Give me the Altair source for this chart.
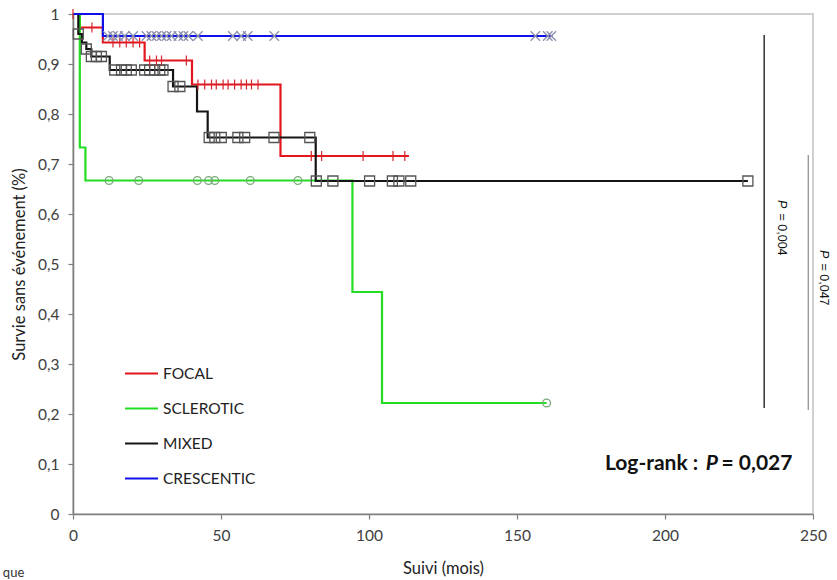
import altair as alt
import pandas as pd

groups = ["FOCAL", "SCLEROTIC", "MIXED", "CRESCENTIC"]
line_colors = ["#e3161e", "#22dd22", "#151515", "#1010e8"]

# step curves (time in months, survival)
focal_t = [0, 2.3, 10.1, 24.2, 40.2, 70.1, 113.5]
focal_s = [1, 0.973, 0.943, 0.907, 0.859, 0.716, 0.716]
focal_cens = [0, 6.4, 13.5, 15.8, 18.0, 20.3, 22.5, 25.9, 28.2, 29.9, 38.3,
              42.2, 44.5, 46.8, 48.4, 50.7, 52.4, 54.6, 56.8, 58.6, 60.3, 62.5,
              80.5, 84.0, 98.0, 108.1, 112.1]

scl_t = [0, 2.3, 4.2, 94.4, 104.4, 160.0]
scl_s = [1, 0.733, 0.667, 0.444, 0.222, 0.222]
scl_cens = [12.2, 22.2, 42.0, 45.8, 47.9, 59.9, 76.0, 160.0]

mix_t = [0, 1.8, 3.0, 4.5, 6.2, 12.4, 33.8, 41.9, 45.5, 82.0, 228.0]
mix_s = [1, 0.96, 0.943, 0.93, 0.915, 0.888, 0.855, 0.805, 0.753, 0.666, 0.666]
mix_cens = [1.8, 4.5, 6.2, 7.9, 9.6, 14.1, 16.4, 18.0, 19.7, 24.2, 25.9, 27.6,
            29.3, 30.4, 33.8, 36.1, 46.0, 47.9, 50.1, 55.7, 58.0, 67.9, 80.0,
            82.2, 87.8, 100.2, 107.9, 110.1, 114.1, 228.0]

cre_t = [0, 10.1, 162.0]
cre_s = [1, 0.956, 0.956]
cre_cens = [11.8, 13.5, 15.2, 17.5, 20.3, 24.8, 26.5, 28.2, 29.9, 31.6, 33.3,
            35.6, 37.3, 39.0, 42.2, 54.0, 56.8, 59.0, 68.0, 156.2, 160.4, 161.6]

x_ticks = [0, 50, 100, 150, 200, 250]
y_ticks = [0, 0.1, 0.2, 0.3, 0.4, 0.5, 0.6, 0.7, 0.8, 0.9, 1.0]

# annotations
test_rule_t = [233.5, 248.4]
test_rule_top = [0.958, 0.718]
test_rule_bottom = [0.212, 0.208]
test_p_t = [239.4, 253.7]
test_p_start = [0.628, 0.528]
test_rest_start = [0.601, 0.501]
test_rest_text = ["= 0,004", "= 0,047"]

curves = {
    "FOCAL": (focal_t, focal_s, focal_cens),
    "SCLEROTIC": (scl_t, scl_s, scl_cens),
    "MIXED": (mix_t, mix_s, mix_cens),
    "CRESCENTIC": (cre_t, cre_s, cre_cens),
}


def surv_at(ts, ss, c):
    v = ss[0]
    for t, s in zip(ts, ss):
        if t <= c:
            v = s
    return v


rows = []
for g, (ts, ss, _) in curves.items():
    for t, s in zip(ts, ss):
        rows.append({"group": g, "t": t, "s": s})
lines_df = pd.DataFrame(rows)

xscale = alt.Scale(domain=[0, 250], nice=False, zero=False)
yscale = alt.Scale(domain=[0, 1], nice=False, zero=False)

x_axis = alt.Axis(values=x_ticks, title="Suivi (mois)", grid=False, tickSize=5,
                  labelPadding=9, titlePadding=17, labelFlush=False)
y_axis = alt.Axis(values=y_ticks, title="Survie sans événement (%)", grid=False,
                  tickSize=5, labelPadding=9, titlePadding=10, labelFlush=False,
                  labelExpr="replace(format(datum.value, '.1~f'), '.', ',')")

lines = alt.Chart(lines_df).mark_line(interpolate="step-after", strokeWidth=2.2).encode(
    x=alt.X("t:Q", scale=xscale, axis=x_axis),
    y=alt.Y("s:Q", scale=yscale, axis=y_axis),
    color=alt.Color("group:N", scale=alt.Scale(domain=groups, range=line_colors),
                    sort=groups,
                    legend=alt.Legend(orient="none", legendX=51, legendY=342, title=None,
                                      symbolType="stroke", symbolSize=1089,
                                      symbolStrokeWidth=1.8, labelFont="Lato",
                                      labelFontSize=15.5, labelColor="#222222",
                                      labelOffset=4, rowPadding=9)),
    detail="group:N",
)

marker_styles = {
    "FOCAL": dict(shape="M0,-1L0,1", size=100, color="#d4262b", strokeWidth=1.2),
    "SCLEROTIC": dict(shape="circle", size=60, color="#7aa87a", strokeWidth=1.3),
    "MIXED": dict(shape="square", size=100, color="#555555", strokeWidth=1.3),
    "CRESCENTIC": dict(shape="M-1,-1L1,1M1,-1L-1,1", size=90, color="#8c90ad", strokeWidth=1.3),
}

layers = [lines]
for g in ["SCLEROTIC", "MIXED", "FOCAL", "CRESCENTIC"]:
    ts, ss, cens = curves[g]
    df = pd.DataFrame({"t": cens, "s": [surv_at(ts, ss, c) for c in cens]})
    st = marker_styles[g]
    layers.append(
        alt.Chart(df).mark_point(filled=False, opacity=1, **st).encode(
            x=alt.X("t:Q", scale=xscale), y=alt.Y("s:Q", scale=yscale))
    )

rules_df = pd.DataFrame({"t": test_rule_t, "top": test_rule_top, "bottom": test_rule_bottom,
                         "c": ["#000000", "#8a8a8a"]})
layers.append(
    alt.Chart(rules_df).mark_rule(strokeWidth=1.2).encode(
        x=alt.X("t:Q", scale=xscale), y=alt.Y("top:Q", scale=yscale), y2="bottom:Q",
        color=alt.Color("c:N", scale=None))
)

ptext_df = pd.DataFrame({"t": test_p_t, "p": test_p_start, "r": test_rest_start,
                         "txt": test_rest_text})
layers.append(
    alt.Chart(ptext_df).mark_text(text="P", angle=90, align="left", baseline="middle",
                                  font="Liberation Sans", fontSize=12.5, fontStyle="italic",
                                  color="#111111").encode(
        x=alt.X("t:Q", scale=xscale), y=alt.Y("p:Q", scale=yscale))
)
layers.append(
    alt.Chart(ptext_df).mark_text(angle=90, align="left", baseline="middle",
                                  font="Liberation Sans", fontSize=12.5,
                                  color="#111111").encode(
        x=alt.X("t:Q", scale=xscale), y=alt.Y("r:Q", scale=yscale), text="txt:N")
)

# Log-rank annotation
lr_df = pd.DataFrame({"t": [211.2, 213.8, 219.1], "s": [0.088, 0.088, 0.088],
                      "txt": ["Log-rank :", "P", "= 0,027"]})
layers.append(
    alt.Chart(lr_df.iloc[[0]]).mark_text(align="right", baseline="alphabetic", font="Lato",
                                         fontSize=21, fontWeight="bold", color="#111111").encode(
        x=alt.X("t:Q", scale=xscale), y=alt.Y("s:Q", scale=yscale), text="txt:N")
)
layers.append(
    alt.Chart(lr_df.iloc[[1]]).mark_text(align="left", baseline="alphabetic", font="Lato",
                                         fontSize=21, fontWeight="bold", fontStyle="italic",
                                         color="#111111").encode(
        x=alt.X("t:Q", scale=xscale), y=alt.Y("s:Q", scale=yscale), text="txt:N")
)
layers.append(
    alt.Chart(lr_df.iloc[[2]]).mark_text(align="left", baseline="alphabetic", font="Lato",
                                         fontSize=21, fontWeight="bold", color="#111111").encode(
        x=alt.X("t:Q", scale=xscale), y=alt.Y("s:Q", scale=yscale), text="txt:N")
)

# cropped caption fragment at bottom-left
cap_df = pd.DataFrame({"t": [-23.7], "s": [-0.106], "txt": ["que"]})
layers.append(
    alt.Chart(cap_df).mark_text(align="left", baseline="top", font="Lato", fontSize=13,
                                color="#333333").encode(
        x=alt.X("t:Q", scale=xscale), y=alt.Y("s:Q", scale=yscale), text="txt:N")
)

chart = alt.layer(*layers).properties(
    width=740, height=500,
    autosize=alt.AutoSizeParams(type="none"),
    padding={"left": 73, "top": 14, "right": 24, "bottom": 66},
    background="white",
).configure_view(
    stroke="#d0d0d0", strokeWidth=2
).configure_axis(
    domainColor="#7f7f7f", domainWidth=1.6, tickColor="#7f7f7f", tickWidth=1.2,
    labelFont="Lato", labelFontSize=15.5, labelColor="#404040",
    titleFont="Lato", titleFontSize=16.5, titleFontWeight="normal", titleColor="#222222",
)

chart.save("out.html", embed_options={"renderer": "svg", "actions": False})
